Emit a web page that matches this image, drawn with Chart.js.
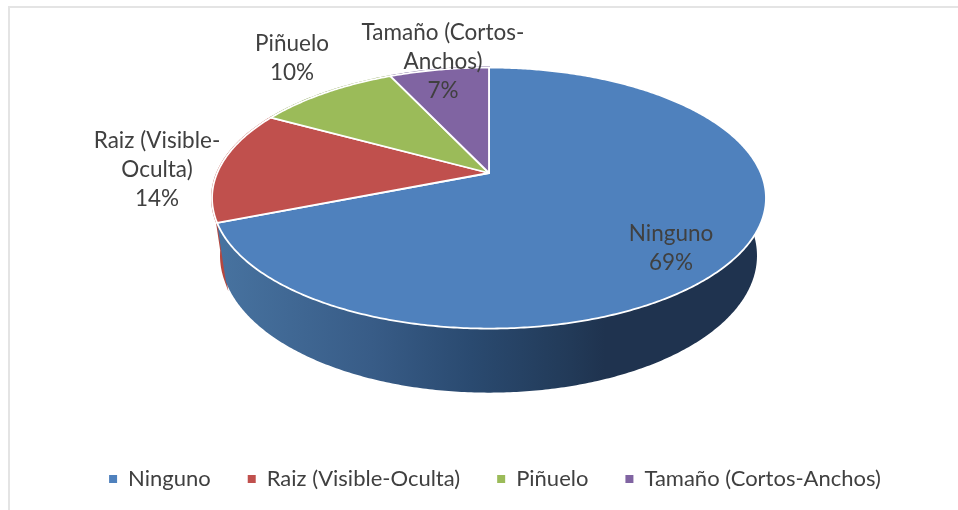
<!DOCTYPE html>
<html>
<head>
<meta charset="utf-8">
<style>
    html, body { margin: 0; padding: 0; background: #fff; }
    #frame { position: absolute; left: 8px; top: 6px; width: 950px; height: 504px; border-left: 2px solid #e4e4e4; border-top: 2px solid #e4e4e4; box-sizing: border-box; }
    #wrap { position: absolute; left: 0; top: 0; width: 958px; height: 510px; }
</style>
</head>
<body>
<div id="frame"></div>
<div id="wrap"><canvas id="pie" width="958" height="510"></canvas></div>
<script src="https://cdn.jsdelivr.net/npm/chart.js@4/dist/chart.umd.js"></script>
<script>
const categories = ['Ninguno', 'Raiz (Visible-Oculta)', 'Piñuelo', 'Tamaño (Cortos-Anchos)'];
const shares = [69, 14, 10, 7];
const labelLines = [['Ninguno'], ['Raiz (Visible-', 'Oculta)'], ['Piñuelo'], ['Tamaño (Cortos-', 'Anchos)']];

const sliceColors = ['#4f81bd', '#c0504d', '#9bbb59', '#8064a2'];
const wallColors = [null, '#b5473f', '#7f9a48', '#66508a'];
const textColor = '#404040';
const fontFamily = 'Lato, "Open Sans", sans-serif';

// centre of each data label, in page pixels
const labelCenters = [[671, 248], [157, 170], [292, 58], [443, 62]];
const lineStep = 29;

// Perspective of the tilted disc
const top3d = { a: 271.8, b: 125.7, k: 0.192, dy: 0 };
const bottom3d = { a: 263, b: 131.9, k: 0.192, dy: 56.4 };
const nudge = { x: -6, y: -42.5 };

function project(el, view, angle) {
    // chart.js angles start at -PI/2, theta is measured clockwise from the top
    const theta = angle + Math.PI / 2;
    const u = Math.sin(theta);
    const v = Math.cos(theta);
    const w = 1 + view.k * v;
    return {
        x: el.x + nudge.x + view.a * u / w,
        y: el.y + nudge.y + view.dy - view.b * v / w
    };
}

function traceArc(ctx, el, view, from, to) {
    const steps = Math.max(2, Math.ceil(Math.abs(to - from) / 0.01));
    for (let i = 0; i <= steps; i++) {
        const p = project(el, view, from + (to - from) * i / steps);
        ctx.lineTo(p.x, p.y);
    }
}

const pie3d = {
    id: 'pie3d',
    beforeDatasetDraw(chart) {
        const ctx = chart.ctx;
        const arcs = chart.getDatasetMeta(0).data;

        // side wall, back slices first
        const wall = ctx.createLinearGradient(222, 0, 605, 0);
        wall.addColorStop(0, '#47729f');
        wall.addColorStop(0.39, '#385c87');
        wall.addColorStop(0.65, '#2a4a70');
        wall.addColorStop(0.91, '#223a58');
        wall.addColorStop(1, '#1f334f');
        for (let i = arcs.length - 1; i >= 0; i--) {
            const el = arcs[i];
            ctx.beginPath();
            traceArc(ctx, el, top3d, el.startAngle, el.endAngle);
            traceArc(ctx, el, bottom3d, el.endAngle, el.startAngle);
            ctx.closePath();
            ctx.fillStyle = wallColors[i] || wall;
            ctx.fill();
            if (wallColors[i]) {
                // keeps the thin sliver of the red wall visible beside the blue one
                ctx.strokeStyle = wallColors[i];
                ctx.lineWidth = 2;
                ctx.stroke();
            }
        }

        // top face
        arcs.forEach((el, i) => {
            const c = project(el, { a: 0, b: 0, k: 0, dy: 0 }, 0);
            ctx.beginPath();
            ctx.moveTo(c.x, c.y);
            traceArc(ctx, el, top3d, el.startAngle, el.endAngle);
            ctx.closePath();
            ctx.fillStyle = sliceColors[i];
            ctx.fill();
            ctx.strokeStyle = '#ffffff';
            ctx.lineWidth = 1.8;
            ctx.lineJoin = 'round';
            ctx.stroke();
        });
        return false;
    },
    afterDatasetsDraw(chart) {
        const ctx = chart.ctx;
        ctx.save();
        ctx.fillStyle = textColor;
        ctx.font = '22.5px ' + fontFamily;
        ctx.textAlign = 'center';
        ctx.textBaseline = 'middle';
        shares.forEach((share, i) => {
            const lines = labelLines[i].concat(share + '%');
            const startY = labelCenters[i][1] - (lines.length - 1) * lineStep / 2;
            lines.forEach((line, n) => ctx.fillText(line, labelCenters[i][0], startY + n * lineStep));
        });
        ctx.restore();
    }
};

new Chart(document.getElementById('pie'), {
    type: 'pie',
    data: {
        labels: categories,
        datasets: [{
            data: shares,
            backgroundColor: sliceColors,
            borderWidth: 0
        }]
    },
    options: {
        responsive: false,
        animation: false,
        layout: { padding: { left: 32, right: 0, top: 0, bottom: 10 } },
        plugins: {
            tooltip: { enabled: false },
            legend: {
                position: 'bottom',
                labels: {
                    boxWidth: 8,
                    boxHeight: 8,
                    padding: 37,
                    color: textColor,
                    font: { family: fontFamily, size: 22 }
                }
            }
        }
    },
    plugins: [pie3d]
});
</script>
</body>
</html>
